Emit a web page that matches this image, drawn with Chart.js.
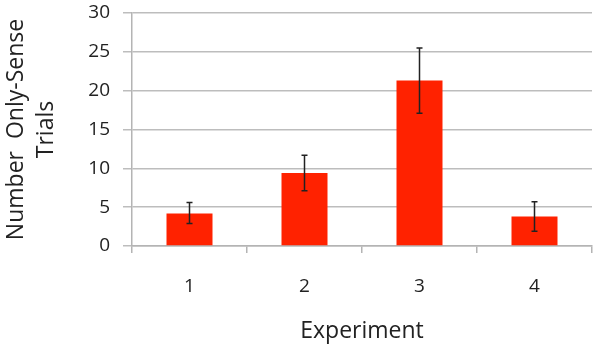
<!DOCTYPE html>
<html>
<head>
<meta charset="utf-8">
<script src="https://cdn.jsdelivr.net/npm/chart.js@4"></script>
<style>
  html, body { margin: 0; padding: 0; background: #fff; }
  #wrap { width: 600px; height: 351px; }
</style>
</head>
<body>
<div id="wrap"><canvas id="c"></canvas></div>
<script>
// values
var experiments = ['1', '2', '3', '4'];
var trials = [4.2, 9.4, 21.3, 3.8];
var errHigh = [5.6, 11.7, 25.5, 5.7];
var errLow = [2.9, 7.1, 17.1, 1.9];
var yTicks = [0, 5, 10, 15, 20, 25, 30];

var FONT = '"Open Sans", sans-serif';

// whiskers, drawn through the chart's scales
var errorBars = {
  id: 'errorBars',
  afterDatasetsDraw: function (chart) {
    var ctx = chart.ctx;
    var x = chart.scales.x, y = chart.scales.y;
    ctx.save();
    ctx.strokeStyle = '#222';
    ctx.lineWidth = 1.5;
    for (var i = 0; i < experiments.length; i++) {
      var px = x.getPixelForValue(i);
      var top = y.getPixelForValue(errHigh[i]);
      var bot = y.getPixelForValue(errLow[i]);
      ctx.beginPath();
      ctx.moveTo(px, top); ctx.lineTo(px, bot);
      ctx.moveTo(px - 3, top); ctx.lineTo(px + 3, top);
      ctx.moveTo(px - 3, bot); ctx.lineTo(px + 3, bot);
      ctx.stroke();
    }
    ctx.restore();
  }
};

new Chart(document.getElementById('c'), {
  type: 'bar',
  data: {
    labels: experiments,
    datasets: [{
      data: trials,
      backgroundColor: '#ff2200',
      borderWidth: 0,
      barPercentage: 0.8,
      categoryPercentage: 0.5
    }]
  },
  options: {
    responsive: true,
    maintainAspectRatio: false,
    animation: false,
    layout: { padding: { top: 13, right: 8, left: 0, bottom: 0 } },
    plugins: { legend: { display: false }, tooltip: { enabled: false } },
    scales: {
      x: {
        afterFit: function (s) { s.height = 105; s.paddingLeft = 0; s.paddingRight = 0; },
        grid: { drawOnChartArea: false, drawTicks: true, tickLength: 7, color: '#b4b4b4', lineWidth: 1.5 },
        border: { color: '#b4b4b4', width: 1.5 },
        ticks: { color: '#222', font: { family: FONT, size: 19 }, padding: 22 },
        title: { display: true, text: 'Experiment', color: '#222', font: { family: FONT, size: 23 }, padding: { top: 4, bottom: 6 } }
      },
      y: {
        min: 0, max: 30,
        afterFit: function (s) { s.width = 132; s.paddingTop = 0; s.paddingBottom = 0; },
        afterBuildTicks: function (s) { s.ticks = yTicks.map(function (v) { return { value: v }; }); },
        grid: { color: '#bdbdbd', lineWidth: 1.5, tickLength: 9 },
        border: { color: '#b4b4b4', width: 1.5 },
        ticks: { color: '#222', font: { family: FONT, size: 19 }, padding: 13 },
        title: {
          display: true,
          text: ['Number  Only-Sense', 'Trials'],
          color: '#222',
          font: { family: FONT, size: 23, lineHeight: 1.3 },
          padding: { bottom: 0, top: 2 }
        }
      }
    }
  },
  plugins: [errorBars]
});
</script>
</body>
</html>
